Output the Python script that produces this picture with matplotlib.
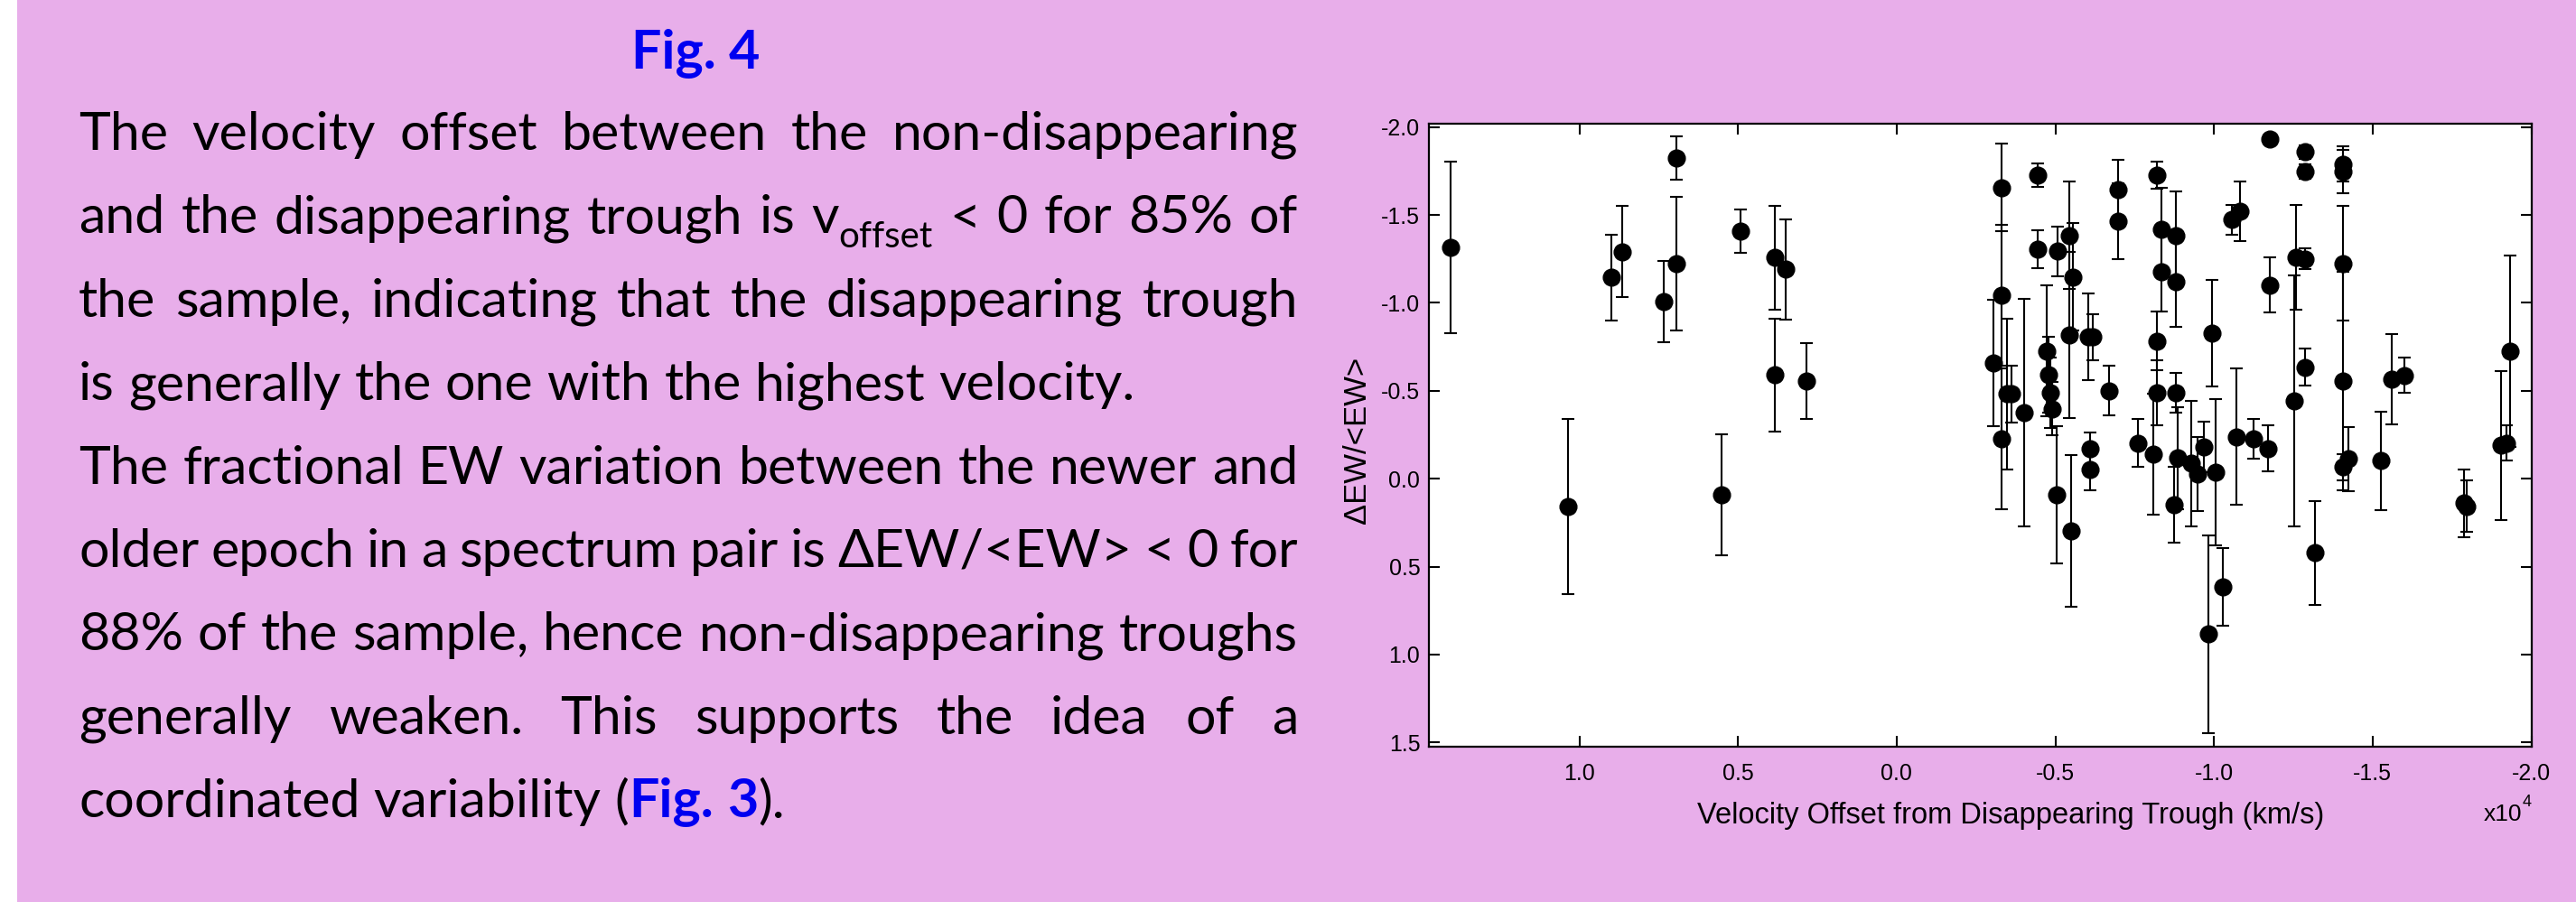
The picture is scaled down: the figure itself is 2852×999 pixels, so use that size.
import re
import numpy as np
import matplotlib
matplotlib.use("Agg")
import matplotlib.pyplot as plt
from matplotlib.patches import Rectangle
from matplotlib.ticker import FormatStrFormatter

# --- data (velocity offset in units of 1e4 km/s) ---
vel = [1.407, 0.899, 0.864, 0.693, 0.733, 0.693, 0.491, 0.384, 0.349, 0.384,
       0.284, 1.036, 0.551,
       -0.332, -0.332, -0.306, -0.332, -0.444, -0.444, -0.508, -0.543, -0.556, -0.543,
       -0.697, -0.697, -0.603, -0.619, -0.668, -0.473, -0.479, -0.484, -0.491, -0.349,
       -0.363, -0.401, -0.503, -0.550, -0.610, -0.610,
       -0.821, -0.833, -0.833, -0.880, -0.880, -0.821, -0.821, -0.880, -0.994, -1.057,
       -1.082, -1.176, -1.176, -1.288, -1.288, -1.258, -1.288, -1.288, -1.253,
       -0.761, -0.809, -0.875, -0.887, -0.927, -0.947, -0.968, -1.005, -0.981, -1.027,
       -1.070, -1.124, -1.170, -1.318,
       -1.406, -1.406, -1.406, -1.406, -1.406, -1.425, -1.525, -1.560, -1.601, -1.789,
       -1.797, -1.933, -1.904, -1.923]
dew = [-1.315, -1.144, -1.291, -1.825, -1.007, -1.224, -1.408, -1.257, -1.190, -0.589,
       -0.555, 0.159, 0.092,
       -1.656, -1.045, -0.657, -0.227, -1.725, -1.305, -1.294, -1.384, -1.148, -0.818,
       -1.644, -1.465, -0.806, -0.806, -0.501, -0.727, -0.592, -0.489, -0.398, -0.481,
       -0.481, -0.375, 0.092, 0.298, -0.169, -0.053,
       -1.725, -1.418, -1.179, -1.384, -1.122, -0.783, -0.489, -0.489, -0.828, -1.473,
       -1.520, -1.930, -1.102, -1.858, -1.747, -1.259, -1.251, -0.634, -0.443,
       -0.203, -0.139, 0.149, -0.118, -0.087, -0.027, -0.181, -0.036, 0.885, 0.614,
       -0.238, -0.227, -0.172, 0.421,
       -1.790, -1.747, -1.225, -0.554, -0.065, -0.113, -0.101, -0.566, -0.588, 0.139,
       0.156, -0.727, -0.190, -0.203]
dew_err = [0.49, 0.245, 0.26, 0.124, 0.233, 0.38, 0.125, 0.295, 0.285, 0.32,
           0.216, 0.50, 0.345,
           0.248, 0.40, 0.36, 0.40, 0.066, 0.108, 0.142, 0.306, 0.305, 0.474,
           0.171, 0.214, 0.248, 0.13, 0.142, 0.373, 0.214, 0.20, 0.15, 0.428,
           0.163, 0.647, 0.39, 0.43, 0.092, 0.12,
           0.077, 0.238, 0.228, 0.252, 0.26, 0.168, 0.183, 0.111, 0.305, 0.086,
           0.171, 0.0, 0.158, 0.04, 0.04, 0.296, 0.06, 0.106, 0.715,
           0.137, 0.342, 0.214, 0.29, 0.356, 0.209, 0.145, 0.416, 0.560, 0.221,
           0.388, 0.115, 0.13, 0.295,
           0.10, 0.123, 0.325, 0.621, 0.075, 0.183, 0.28, 0.255, 0.101, 0.193,
           0.148, 0.544, 0.424, 0.10]

xticks = [1.0, 0.5, 0.0, -0.5, -1.0, -1.5, -2.0]
yticks = [-2.0, -1.5, -1.0, -0.5, 0.0, 0.5, 1.0, 1.5]

title = "Fig. 4"
# *...* = bold blue, _{...} = subscript
para_lines = [
    "The velocity offset between the non-disappearing",
    "and the disappearing trough is v_{offset} < 0 for 85% of",
    "the sample, indicating that the disappearing trough",
    "is generally the one with the highest velocity.",
    "The fractional EW variation between the newer and",
    "older epoch in a spectrum pair is \u0394EW/<EW> < 0 for",
    "88% of the sample, hence non-disappearing troughs",
    "generally weaken. This supports the idea of a",
    "coordinated variability (*Fig.* *3*).",
]
justified = [True, True, True, False, True, True, True, True, False]

PINK = "#E8AEEA"
BLUE = "#0000F0"
BODY_FONT = ["Lato", "DejaVu Sans"]

plt.rcParams["font.family"] = ["Liberation Sans", "DejaVu Sans"]
plt.rcParams["axes.unicode_minus"] = False

W, H = 2852, 999
fig = plt.figure(figsize=(W / 100, H / 100), dpi=100, facecolor=PINK)
renderer = fig.canvas.get_renderer()


def fx(x):
    return x / W


def fy(y):
    return 1 - y / H


# white strip on the left edge
fig.patches.append(Rectangle((0, 0), fx(19), 1, transform=fig.transFigure,
                             facecolor="white", edgecolor="none", zorder=0))

# --- scatter plot ---
ax_l, ax_r, ax_t, ax_b = 1582, 2802.5, 137, 826.7
ax = fig.add_axes([fx(ax_l), fy(ax_b), fx(ax_r - ax_l), (ax_b - ax_t) / H])
ax.set_facecolor("white")
ax.errorbar(vel, dew, yerr=dew_err, fmt="o", color="black", ms=13.5,
            elinewidth=1.5, capsize=5, capthick=1.5)
ax.set_xlim(1.474, -2.0)
ax.set_ylim(1.523, -2.019)
ax.set_xticks(xticks)
ax.set_yticks(yticks)
ax.xaxis.set_major_formatter(FormatStrFormatter("%.1f"))
ax.yaxis.set_major_formatter(FormatStrFormatter("%.1f"))
ax.tick_params(direction="in", length=8.6, width=1.5, top=True, right=True,
               labelsize=18)
ax.tick_params(axis="x", pad=13)
ax.tick_params(axis="y", pad=7)
for sp in ax.spines.values():
    sp.set_linewidth(1.6)

ax.set_xlabel("Velocity Offset from Disappearing Trough (km/s)", fontsize=23.5)
ax.xaxis.set_label_coords(0.528, -0.0889)
ax.set_ylabel("\u0394EW/<EW>", fontsize=25)
ax.yaxis.set_label_coords(-0.052, 0.4918)

# axis multiplier "x10^4"
mult = fig.text(fx(2750), fy(909), "x10", fontsize=19, ha="left", va="baseline")
mult_end = mult.get_window_extent(renderer).x1
fig.text(mult_end / W, fy(893), "4", fontsize=13, ha="left", va="baseline")


# --- justified text block ---
def run_style(kind, fs):
    if kind == "bold":
        return dict(fontsize=fs, color=BLUE, weight="bold", family=BODY_FONT)
    if kind == "sub":
        return dict(fontsize=fs * 0.68, color="black", family=BODY_FONT)
    return dict(fontsize=fs, color="black", family=BODY_FONT)


def split_runs(word):
    runs = []
    for p in re.split(r"(\*[^*]+\*|_\{[^}]+\})", word):
        if not p:
            continue
        if p.startswith("*"):
            runs.append((p[1:-1], "bold"))
        elif p.startswith("_{"):
            runs.append((p[2:-1], "sub"))
        else:
            runs.append((p, "normal"))
    return runs


def width_of(s, **kw):
    t = fig.text(0, 0, s, **kw)
    w = t.get_window_extent(renderer).width
    t.remove()
    return w


def word_width(runs, fs):
    return sum(width_of(s, **run_style(k, fs)) for s, k in runs)


def space_width(fs):
    st = run_style("normal", fs)
    return width_of("a a", **st) - width_of("aa", **st)


X0, X1 = 87, 1437
LINE4_END = 1258          # where the unjustified 4th line ends in the original
baselines = np.linspace(166, 905, len(para_lines))

# pick a size: match the free (unjustified) line length, but keep justified
# lines from needing spaces narrower than half a normal space
fs0 = 39.0
sp0 = space_width(fs0)
free_words = [split_runs(w) for w in para_lines[3].split()]
free_w = sum(word_width(r, fs0) for r in free_words) + sp0 * (len(free_words) - 1)
fs = fs0 * (LINE4_END - X0) / free_w
for line, just in zip(para_lines, justified):
    if not just:
        continue
    words = [split_runs(w) for w in line.split()]
    nat = sum(word_width(r, fs0) for r in words) + 0.5 * sp0 * (len(words) - 1)
    fs = min(fs, fs0 * (X1 - X0) / nat * 0.998)
space = space_width(fs)

for line, just, yb in zip(para_lines, justified, baselines):
    words = [split_runs(w) for w in line.split()]
    widths = [word_width(r, fs) for r in words]
    gap = (X1 - X0 - sum(widths)) / (len(words) - 1) if just else space
    x = X0
    for runs, ww in zip(words, widths):
        for s, k in runs:
            st = run_style(k, fs)
            dy = 0.27 * fs / 0.72 if k == "sub" else 0
            t = fig.text(fx(x), fy(yb + dy), s, ha="left", va="baseline", **st)
            x += t.get_window_extent(renderer).width
        x += gap

fig.text(fx(770), fy(76), title, ha="center", va="baseline",
         **run_style("bold", fs))

fig.savefig("out.png", dpi=100, facecolor=PINK)
